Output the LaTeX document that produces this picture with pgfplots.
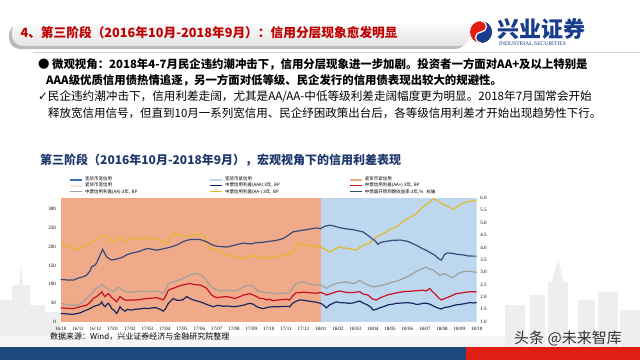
\documentclass[border=0pt]{standalone}
\usepackage{fontspec}
\setmainfont{Liberation Serif}
\newfontfamily\cjk{Noto Sans CJK SC}
\newfontfamily\sym{DejaVu Sans}
\usepackage{pgfplots}
\pgfplotsset{compat=1.18}
\definecolor{salmon}{RGB}{240,170,138}
\definecolor{lblue}{RGB}{189,215,238}
\definecolor{peach}{RGB}{251,229,214}
\definecolor{wblue}{RGB}{46,117,182}
\definecolor{cAAA}{RGB}{22,40,95}
\definecolor{cAAp}{RGB}{200,16,36}
\definecolor{cAA}{RGB}{160,160,160}
\definecolor{cAAm}{RGB}{228,184,40}
\definecolor{cGK}{RGB}{55,75,120}
\definecolor{titlered}{RGB}{192,0,0}
\definecolor{navy}{RGB}{31,56,110}
\definecolor{bandblue}{RGB}{28,72,125}
\definecolor{bandred}{RGB}{225,30,20}
\definecolor{logoblue}{RGB}{25,60,140}
\begin{document}
\begin{tikzpicture}
\useasboundingbox (0pt,0pt) rectangle (640pt,360pt);
\begin{scope}[x=1pt,y=1pt]
\fill[white] (0,0) rectangle (640,360);
% skyline (faint)
\fill[gray!13] (0,13) rectangle (12,60);
\fill[gray!13] (12,13) rectangle (30,75);
\fill[gray!13] (19,75) -- (21,95) -- (23,75) -- cycle;
\fill[gray!13] (30,13) rectangle (45,55);
\fill[gray!13] (45,13) rectangle (60,48);
\fill[gray!8] (0,13) rectangle (640,24);
\fill[gray!13] (505,13) rectangle (525,55);
\fill[gray!13] (530,13) rectangle (545,65);
\fill[gray!13] (548,13) rectangle (568,78);
\fill[gray!13] (552,78) -- (558,100) -- (564,78) -- cycle;
\fill[gray!13] (578,13) rectangle (595,60);
\fill[gray!13] (598,13) rectangle (618,68);
\fill[gray!13] (620,13) rectangle (640,50);
% title bar
\fill[gray!55, rounded corners=11] (9,311) rectangle (466,336);
\shade[rounded corners=11, top color=white, bottom color=gray!22] (12,314) rectangle (470,340);
\node[anchor=west, text=titlered, font=\cjk\bfseries\fontsize{12.7}{12.7}\selectfont] at (17,327) {4、第三阶段（2016年10月-2018年9月）：信用分层现象愈发明显};
% logo
\fill[bandred] (481,328) circle (11);
\fill[logoblue] (481,317) arc (-90:90:11) arc (90:-90:5.5) arc (90:270:5.5) -- cycle;
\draw[white, line width=1.2pt] (481,339) arc (90:-90:5.5) arc (90:270:5.5);
\node[anchor=west, text=logoblue, font=\cjk\bfseries\fontsize{22}{22}\selectfont, inner sep=0pt] at (497,331) {兴业证券};
\node[anchor=west, text=logoblue, font=\fontsize{5.6}{5.6}\selectfont, inner sep=0pt] at (499,316) {INDUSTRIAL SECURITIES};
\draw[gray!35, line width=1pt] (33,308) -- (640,308);
% bullets
\node[anchor=west, inner sep=0pt, font=\cjk\bfseries\fontsize{11.4}{11.4}\selectfont] at (38,296) {● 微观视角：2018年4-7月民企违约潮冲击下，信用分层现象进一步加剧。投资者一方面对AA+及以上特别是};
\node[anchor=west, inner sep=0pt, font=\cjk\bfseries\fontsize{11.4}{11.4}\selectfont] at (46,280) {AAA级优质信用债热情追逐，另一方面对低等级、民企发行的信用债表现出较大的规避性。};
\node[anchor=west, inner sep=0pt, font=\cjk\fontsize{11.6}{11.6}\selectfont] at (38,263) {{\sym ✓}民企违约潮冲击下，信用利差走阔，尤其是AA/AA-中低等级利差走阔幅度更为明显。2018年7月国常会开始};
\node[anchor=west, inner sep=0pt, font=\cjk\fontsize{11.5}{11.5}\selectfont] at (48,247) {释放宽信用信号，但直到10月一系列宽信用、民企纾困政策出台后，各等级信用利差才开始出现趋势性下行。};
% chart title
\node[anchor=west, inner sep=0pt, text=navy, font=\cjk\bfseries\fontsize{12}{12}\selectfont] at (40,200) {第三阶段（2016年10月-2018年9月），宏观视角下的信用利差表现};
\end{scope}

\begin{axis}[at={(60.7pt,38.3pt)}, anchor=south west, width=416pt, height=123.7pt, scale only axis,
  xmin=0, xmax=24, ymin=0, ymax=330,
  axis line style={draw=none}, tick style={draw=none},
  ytick={0,50,...,300},
  xtick={0,...,24},
  xticklabels={16/10,16/11,16/12,17/01,17/02,17/03,17/04,17/05,17/06,17/07,17/08,17/09,17/10,17/11,17/12,18/01,18/02,18/03,18/04,18/05,18/06,18/07,18/08,18/09,18/10},
  tick label style={font=\fontsize{5}{5}\selectfont},
  xticklabel style={inner sep=0pt, yshift=-5pt},
  yticklabel style={inner sep=0pt, xshift=-4.5pt},
  /pgf/number format/assume math mode=true,
  legend columns=3,
  legend cell align=left,
  legend image code/.code={\draw[#1] (0pt,0pt) -- (12pt,0pt);},
  legend style={at={(0.02,1.17)}, anchor=north west, draw=none, fill=none,
    font=\cjk\fontsize{4.5}{4.5}\selectfont, inner sep=0pt, row sep=1.2pt, column sep=1.5pt,
    nodes={inner sep=0.3pt, text width=122pt, align=left, text height=3.4pt, text depth=0.9pt}},
]
\addplot[fill=salmon, draw=none, forget plot] coordinates {(0,330) (15,330)} \closedcycle;
\addplot[fill=lblue, draw=none, forget plot] coordinates {(15,330) (24,330)} \closedcycle;
% AA-
\addplot[cAAm, line width=1.2pt, forget plot] coordinates {
(0,204) (0.25,206) (0.54,199) (0.75,195) (0.96,191) (1.1,196) (1.31,201) (1.5,205) (1.69,208) (1.88,214) (2.04,220) (2.2,224) (2.37,229) (2.56,231) (2.75,222) (2.9,216) (3.04,213) (3.2,220) (3.42,228) (3.55,219) (3.71,213) (3.85,219) (4.04,224) (4.3,221) (4.58,222) (4.8,225) (5.06,224) (5.3,221) (5.54,222) (5.7,219) (5.83,215) (6.02,204) (6.15,212) (6.31,222) (6.5,235) (6.7,229) (6.85,233) (7.04,231) (7.2,228) (7.37,226) (7.55,231) (7.65,232) (8.04,231) (8.23,231) (8.35,222) (8.42,208) (8.62,195) (8.8,193) (9.0,191) (9.2,186) (9.38,182) (9.6,178) (10.02,173) (10.3,170) (10.54,167) (10.73,173) (11.02,177) (11.3,172) (11.5,170) (11.67,172) (12.02,169) (12.25,172) (12.54,174) (12.83,176) (13.02,178) (13.3,183) (13.5,187) (13.69,209) (13.85,206) (14.04,205) (14.2,204) (14.46,202) (14.75,201) (15,200) (15.2,194) (15.52,186) (15.75,192) (16.1,200) (16.3,197) (16.67,195) (16.87,193) (17.06,191) (17.25,198) (17.44,204) (17.73,208) (17.9,213) (18.02,219) (18.31,229) (18.6,235) (18.79,240) (19.0,246) (19.37,253) (19.7,265) (20,275) (20.3,282) (20.52,288) (20.71,298) (20.9,306) (21.1,313) (21.29,319) (21.48,328) (21.6,326) (21.87,319) (22.1,312) (22.44,306) (22.63,300) (22.83,305) (23.02,312) (23.21,316) (23.4,319) (23.6,321) (23.79,322) (24,324)};
% AA
\addplot[cAA, line width=1.2pt, forget plot] coordinates {
(0,49) (0.3,46) (0.54,44) (0.96,44) (1.2,50) (1.4,58) (1.69,71) (1.88,80) (2.04,89) (2.2,93) (2.37,99) (2.56,93) (2.75,87) (2.85,84) (3.04,80) (3.2,86) (3.33,93) (3.5,86) (3.62,82) (4.04,78) (4.3,80) (4.58,82) (4.8,81) (5.06,80) (5.3,81) (5.54,82) (5.75,79) (5.92,75) (6.05,85) (6.21,102) (6.5,106) (6.75,110) (7.04,115) (7.25,120) (7.46,124) (7.65,127) (7.85,129) (8.04,125) (8.23,120) (8.42,110) (8.52,102) (8.7,94) (8.81,89) (9.0,86) (9.19,82) (9.58,84) (10.02,82) (10.3,86) (10.54,93) (10.73,96) (10.92,98) (11.1,95) (11.31,84) (11.5,80) (11.67,80) (11.9,76) (12.02,78) (12.25,75) (12.6,76) (13.02,76) (13.21,78) (13.4,92) (13.6,102) (13.8,104) (14.04,107) (14.17,102) (14.46,100) (14.65,98) (15,98) (15.2,93) (15.33,89) (15.52,95) (15.9,102) (16.1,104) (16.48,106) (16.87,102) (17.06,104) (17.25,111) (17.44,104) (17.73,98) (18.02,93) (18.3,95) (18.6,98) (18.9,102) (19.17,106) (19.5,110) (19.75,115) (20.1,122) (20.33,129) (20.52,134) (20.71,138) (20.9,142) (21.1,146) (21.29,140) (21.48,138) (21.7,130) (21.87,124) (22.05,128) (22.25,126) (22.44,121) (22.63,117) (22.83,125) (23.02,131) (23.3,134) (23.6,135) (23.8,133) (24,131)};
% AA+
\addplot[cAAp, line width=1.2pt, forget plot] coordinates {
(0,37) (0.3,36) (0.73,35) (0.96,38) (1.2,41) (1.5,44) (1.7,52) (1.88,62) (2.04,66) (2.17,71) (2.3,76) (2.37,80) (2.47,72) (2.56,67) (2.66,72) (2.75,75) (2.85,70) (2.94,64) (3.1,59) (3.23,53) (3.33,60) (3.42,67) (3.55,62) (3.71,58) (3.85,57) (4.04,58) (4.3,58) (4.58,59) (4.8,61) (5.06,62) (5.3,63) (5.54,64) (5.75,61) (5.92,58) (6.05,68) (6.21,84) (6.35,87) (6.5,89) (6.75,94) (7.04,98) (7.25,100) (7.46,102) (7.7,99) (8.04,98) (8.23,94) (8.42,89) (8.6,78) (8.71,71) (8.85,67) (9.0,64) (9.3,66) (9.58,67) (9.8,65) (10.02,62) (10.3,66) (10.54,71) (10.73,73) (10.92,75) (11.1,71) (11.31,67) (11.5,62) (11.67,62) (11.9,58) (12.02,60) (12.25,56) (12.54,58) (13.02,60) (13.21,58) (13.4,70) (13.6,78) (13.8,77) (14.04,79) (14.17,78) (14.46,77) (14.75,76) (15,78) (15.2,75) (15.33,71) (15.52,74) (15.9,80) (16.1,82) (16.48,78) (16.87,78) (17.25,80) (17.44,74) (17.73,71) (17.9,64) (18.02,60) (18.21,58) (18.4,63) (18.6,67) (18.9,72) (19.17,75) (19.5,78) (19.75,80) (20.1,81) (20.33,82) (20.6,83) (20.9,84) (21.1,82) (21.29,89) (21.45,80) (21.58,75) (21.8,64) (21.96,58) (22.15,62) (22.44,67) (22.63,71) (22.83,75) (23.02,76) (23.4,79) (23.7,80) (24,80)};
% AAA
\addplot[cAAA, line width=1.2pt, forget plot] coordinates {
(0,22) (0.3,21) (0.54,20) (0.73,20) (0.96,22) (1.15,24) (1.31,28) (1.6,33) (1.88,40) (2.04,43) (2.17,44) (2.3,48) (2.37,53) (2.45,45) (2.56,40) (2.65,46) (2.75,49) (2.85,43) (2.94,35) (3.04,32) (3.23,22) (3.33,30) (3.42,40) (3.55,33) (3.71,28) (3.85,33) (4.04,31) (4.3,33) (4.58,34) (4.8,36) (5.06,35) (5.3,37) (5.54,37) (5.75,33) (5.92,28) (6.05,35) (6.21,49) (6.35,55) (6.5,62) (6.7,57) (7.04,58) (7.27,67) (7.45,62) (7.65,58) (8.04,53) (8.23,50) (8.42,46) (8.62,43) (8.81,40) (9.0,43) (9.19,43) (9.4,41) (9.58,42) (10.02,40) (10.3,42) (10.54,44) (10.73,47) (10.92,49) (11.1,47) (11.31,40) (11.5,37) (11.67,35) (12.02,39) (12.25,40) (12.54,40) (13.02,41) (13.21,40) (13.4,50) (13.6,55) (13.79,58) (14.04,57) (14.17,56) (14.46,54) (14.75,52) (15,49) (15.2,43) (15.33,37) (15.52,45) (15.9,53) (16.1,51) (16.48,50) (16.67,49) (16.87,50) (17.06,53) (17.25,55) (17.44,50) (17.73,44) (17.9,38) (18.02,31) (18.21,33) (18.4,37) (18.6,40) (18.9,45) (19.17,47) (19.37,49) (19.75,50) (20,51) (20.33,49) (20.52,46) (20.71,47) (20.9,49) (21.1,49) (21.29,47) (21.58,40) (21.8,36) (21.96,34) (22.15,38) (22.44,40) (22.63,43) (22.83,45) (23.02,46) (23.3,48) (23.6,51) (23.79,50) (24,51)};
\addlegendimage{wblue, line width=2.2pt}
\addlegendentry{宽货币宽信用}
\addlegendimage{lblue, line width=2.2pt}
\addlegendentry{宽货币紧信用}
\addlegendimage{salmon, line width=2.2pt}
\addlegendentry{紧货币紧信用}
\addlegendimage{peach, line width=2.2pt}
\addlegendentry{紧货币宽信用}
\addlegendimage{cAAA, line width=1pt}
\addlegendentry{中票信用利差(AAA):3年, BP}
\addlegendimage{cAAp, line width=1pt}
\addlegendentry{中票信用利差(AA+):3年, BP}
\addlegendimage{cAA, line width=1pt}
\addlegendentry{中票信用利差(AA):3年, BP}
\addlegendimage{cAAm, line width=1pt}
\addlegendentry{中票信用利差(AA-):3年, BP}
\addlegendimage{cGK, line width=1pt}
\addlegendentry{中债国开债到期收益率:3年,\%\ \ 右轴}
\end{axis}

\begin{axis}[at={(60.7pt,38.3pt)}, anchor=south west, width=416pt, height=123.7pt, scale only axis,
  xmin=0, xmax=24, ymin=1, ymax=6,
  axis x line=none, axis y line*=right,
  axis line style={draw=none}, tick style={draw=none},
  ytick={1,1.5,...,6},
  tick label style={font=\fontsize{5}{5}\selectfont},
  yticklabel style={inner sep=0pt, xshift=3.5pt, /pgf/number format/.cd, fixed, fixed zerofill, precision=1},
  /pgf/number format/assume math mode=true,
]
\addplot[cGK, line width=1.2pt] coordinates {
(0,2.71) (0.3,2.69) (0.73,2.68) (0.96,2.75) (1.3,2.82) (1.5,2.88) (1.69,3.05) (1.79,3.22) (2.0,3.3) (2.08,3.39) (2.27,3.69) (2.42,3.92) (2.55,3.75) (2.65,3.62) (2.85,3.52) (2.94,3.49) (3.1,3.52) (3.23,3.53) (3.42,3.57) (3.62,3.62) (3.8,3.7) (4.04,3.76) (4.3,3.8) (4.58,3.85) (4.8,3.92) (5.06,3.96) (5.3,3.92) (5.54,3.89) (5.8,3.93) (6.02,3.96) (6.25,4.0) (6.5,4.05) (6.75,4.12) (7.04,4.23) (7.25,4.28) (7.46,4.32) (7.8,4.33) (8.04,4.32) (8.23,4.28) (8.42,4.23) (8.7,4.12) (9.0,4.05) (9.3,4.03) (9.58,4.02) (10.02,4.09) (10.3,4.14) (10.54,4.18) (10.8,4.15) (11.02,4.15) (11.3,4.2) (11.5,4.2) (11.67,4.21) (12.06,4.25) (12.4,4.28) (12.83,4.36) (13.1,4.48) (13.4,4.63) (13.8,4.68) (14.17,4.72) (14.5,4.76) (14.75,4.79) (15,4.76) (15.2,4.85) (15.52,4.9) (15.8,4.86) (16.1,4.8) (16.5,4.75) (16.87,4.72) (17.25,4.66) (17.44,4.63) (17.6,4.55) (17.83,4.43) (18.02,4.32) (18.12,4.29) (18.31,4.12) (18.4,4.18) (18.6,4.23) (19.17,4.29) (19.6,4.3) (20,4.25) (20.33,4.15) (20.52,4.09) (20.8,3.98) (21.1,3.88) (21.3,3.8) (21.58,3.69) (21.8,3.55) (21.96,3.49) (22.15,3.72) (22.3,3.78) (22.63,3.76) (22.9,3.72) (23.21,3.7) (23.5,3.66) (23.79,3.65) (24,3.65)};
\end{axis}

\begin{scope}[x=1pt,y=1pt]
\node[anchor=west, inner sep=0pt, font=\cjk\fontsize{8}{8}\selectfont] at (50,23) {数据来源：Wind，兴业证券经济与金融研究院整理};
\fill[bandblue] (0,0) rectangle (466,13);
\fill[bandred] (466,0) rectangle (640,13);
\node[anchor=west, inner sep=0pt, text=black!80, font=\cjk\fontsize{15}{15}\selectfont] at (514,22) {头条 @未来智库};
\end{scope}
\end{tikzpicture}
\end{document}
